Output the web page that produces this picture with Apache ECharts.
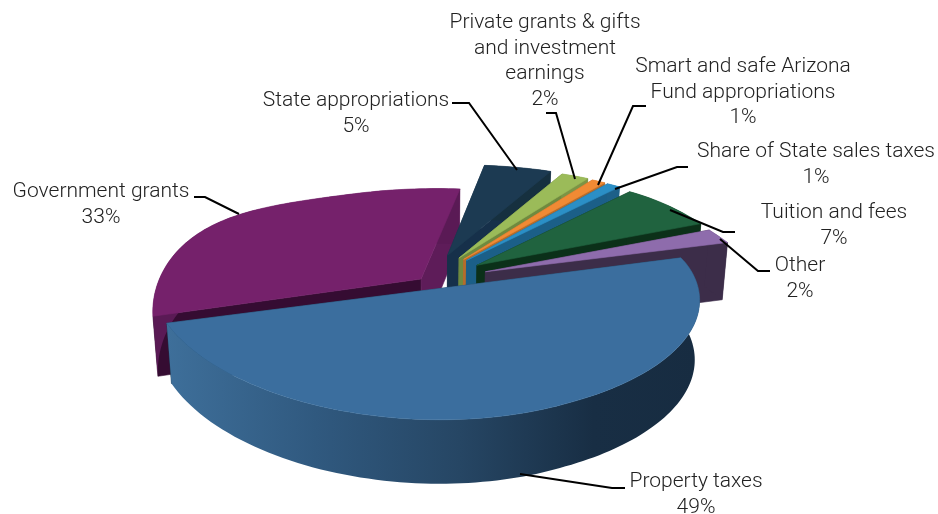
<!DOCTYPE html>
<html>
<head>
<meta charset="utf-8">
<style>html,body{margin:0;padding:0;background:#fff}#c{width:938px;height:514px}</style>
<script src="https://cdn.jsdelivr.net/npm/echarts@6/dist/echarts.min.js"></script>
</head>
<body>
<div id="c"></div>
<script>
// ---- data ----
const categories = ['Property taxes','Government grants','State appropriations','Private grants & gifts\nand investment\nearnings','Smart and safe Arizona\nFund appropriations','Share of State sales taxes','Tuition and fees','Other'];
const values = [49,33,5,2,1,1,7,2];
// ---- styling ----
const topColors  = ['#3b6e9e','#75216b','#1c3a52','#9bbb59','#f08a34','#2b8fc6','#20633f','#8e6cac'];
const edgeColors = ['#2a4f73','#5a1a55','#16303f','#7c9445','#b56c2b','#1d6088','#0c3019','#3c2d49'];
const faceColors = ['#1c3a52','#350c32','#16304a','#6f8a3f','#b56c2b','#1b5f88','#0b3019','#3c2d49'];
const endColors  = ['#1c3a52','#5e1c59','#16304a','#6f8a3f','#b56c2b','#1b5f88','#0b3019','#3c2d49'];
const drawOrder  = [8,1,2,3,4,5,6,7];
const explode    = [0,0,.2,.2,.2,.2,.2,.2];
const driftX     = [0,-.049,0,0,0,0,0,0];
const driftY     = [0,.013,0,0,0,0,0,0];
const spreadX    = [1,1.05,1,1,1,1,1,1];
// ---- label layout ----
const labelX = [696,101,356,545,743,816,834,800];
const labelY = [482,192,101,23,67,152,213,266];
const leaders = [
  [[520,474],[612,488],[625,488]],
  [[194,197],[205,197],[239,214]],
  [[452,103],[469,103],[517,170]],
  [[546,113],[556,113],[575,179]],
  [[646,106],[633,106],[598,185]],
  [[688,167],[677,167],[615,189]],
  [[735,232],[723,232],[670,210]],
  [[770,271],[758,271],[720,239]]
];
const FONT = 'Roboto, "Liberation Sans", sans-serif';
const cx = 435, cy = 279, startDeg = -1.8;
const total = values.reduce((a,b)=>a+b,0);
const rad = d => d*Math.PI/180;
function bounds(i){
  let s = startDeg;
  for(let k=0;k<i;k++) s -= values[k]/total*360;
  return [s, s - values[i]/total*360];
}
function flat(X,Y){ return [255.5*X-108*Y, -32.5*X-122*Y]; }
// near slice: perspective map to page position
function nearMap(X,Y){
  const d = 1+.264*X;
  let x = (367*X-81*Y+487)/d;
  const y = (44*X-125*Y+278)/d;
  if(X>0) x += 18*X*Math.sqrt(Math.abs(Y));
  return [x, y];
}
// far slices: perspective map relative to each slice's own tip
function farMap(X,Y,i){
  const d = 1+.305*Y;
  let x = (255.5*X-77.4*Y)/d, y = (-32.5*X-112*Y)/d;
  if(X>0) x *= 1-.07*Math.pow(X,8);
  if(X<0) y -= 28*X*X*Y;
  return [x*spreadX[i], y];
}
function lower(p){
  const depth = 55+(p[1]-184)*(9/236);
  return [p[0]-.018*(p[0]-430), p[1]+depth];
}
function geometry(i){
  const [a0,a1] = bounds(i);
  const mid = rad((a0+a1)/2);
  const off = flat(explode[i]*Math.cos(mid)+driftX[i], explode[i]*Math.sin(mid)+driftY[i]);
  let apex = [cx+off[0], cy+off[1]];
  const n = Math.max(4, Math.ceil((a0-a1)/1.5));
  const arc = [];
  for(let k=0;k<=n;k++){
    const t = rad(a0+(a1-a0)*k/n);
    const X = Math.cos(t), Y = Math.sin(t);
    if(i===0){ arc.push(nearMap(X,Y)); }
    else { const p = farMap(X,Y,i); arc.push([apex[0]+p[0], apex[1]+p[1]]); }
  }
  if(i===0){
    const a = arc[0], b = arc[arc.length-1], tx = 487;
    apex = [tx, a[1]+(b[1]-a[1])*(tx-a[0])/(b[0]-a[0])];
  }
  return {apex, arc};
}
function renderItem(params, api){
  const i = params.dataIndex;
  if(!api.value(0)) return;
  const {apex,arc} = geometry(i);
  const base = drawOrder[i]*10;
  const lowArc = arc.map(lower);
  const la = lower(apex);
  const first = arc[0], last = arc[arc.length-1];
  let edgeFill = edgeColors[i];
  if(i===0){
    const xs = arc.map(p=>p[0]);
    edgeFill = new echarts.graphic.LinearGradient(Math.min(...xs),0,Math.max(...xs),0,[
      {offset:0,color:'#3e6f9a'},{offset:.28,color:'#30597f'},{offset:.55,color:'#264664'},{offset:.8,color:'#182e44'},{offset:1,color:'#172c41'}
    ],true);
  }
  const poly = (points,fill,z,stroke)=>({type:'polygon',silent:true,z2:base+z,shape:{points},style:{fill,stroke:stroke||fill,lineWidth:.6}});
  return {type:'group',children:[
    poly([apex,first,lower(first),la],faceColors[i],0),
    poly([apex,last,lower(last),la],endColors[i],1),
    poly(arc.concat(lowArc.slice().reverse()),edgeFill,2,'none'),
    poly([apex].concat(arc),topColors[i],3)
  ]};
}
const textEls = categories.map((name,i)=>{
  const lines = (name+'\n'+values[i]+'%').split('\n');
  return lines.map((line,k)=>({type:'text',x:labelX[i],y:labelY[i]+k*25.6,z:200,silent:true,
    style:{text:line,font:'300 21px '+FONT,fill:'#222',textAlign:'center',textVerticalAlign:'middle'}}));
}).flat();
const lineEls = leaders.map(pts=>({type:'polyline',z:150,silent:true,shape:{points:pts},style:{stroke:'#000',lineWidth:2,fill:null}}));
const chart = echarts.init(document.getElementById('c'));
chart.setOption({
  animation:false,
  backgroundColor:'#fff',
  series:[{type:'custom',coordinateSystem:'none',silent:true,renderItem,data:values.map((v,i)=>({name:categories[i],value:v}))}],
  graphic:{elements:lineEls.concat(textEls)}
});
</script>
</body>
</html>
